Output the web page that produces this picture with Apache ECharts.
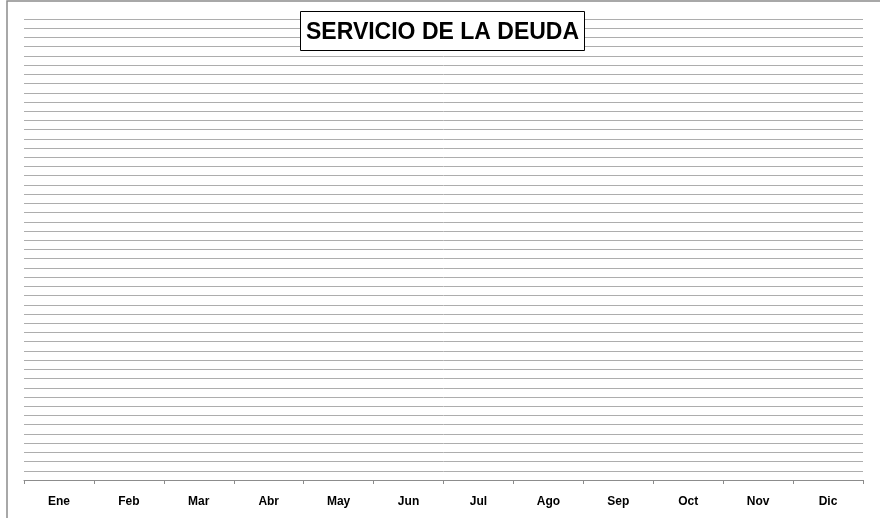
<!DOCTYPE html>
<html>
<head>
<meta charset="utf-8">
<script src="https://cdn.jsdelivr.net/npm/echarts@6/dist/echarts.min.js"></script>
<style>html,body{margin:0;padding:0;background:#fff}#c{width:880px;height:518px}</style>
</head>
<body>
<div id="c"></div>
<script>
const months = ['Ene','Feb','Mar','Abr','May','Jun','Jul','Ago','Sep','Oct','Nov','Dic'];
const servicioDeuda = [null,null,null,null,null,null,null,null,null,null,null,null];
const yMin = 0;
const yMax = 50;
const yStep = 1;

const chart = echarts.init(document.getElementById('c'), null, {renderer:'canvas'});
chart.setOption({
  animation:false,
  backgroundColor:'#ffffff',
  title:{
    text:'SERVICIO DE LA DEUDA',
    left:300, top:11,
    padding:[8,6,5,6],
    borderColor:'#000', borderWidth:1,
    backgroundColor:'#fff',
    textStyle:{fontFamily:'Liberation Sans, Arial, sans-serif', fontWeight:'bold', fontSize:23, color:'#000', lineHeight:27}
  },
  graphic:[{type:'rect', shape:{x:7,y:1,width:900,height:560}, style:{fill:'none', stroke:'#8c8c8c', lineWidth:1.5}, silent:true, z:-1}],
  grid:{left:24, right:17, top:19, bottom:38, containLabel:false},
  xAxis:{
    type:'category', data:months, boundaryGap:true,
    axisLine:{show:true, lineStyle:{color:'#8c8c8c', width:1}},
    axisTick:{show:true, length:4, alignWithLabel:false, lineStyle:{color:'#8c8c8c'}},
    axisLabel:{margin:16, fontFamily:'Liberation Sans, Arial, sans-serif', fontWeight:'bold', fontSize:12, color:'#000'},
    splitLine:{show:false}
  },
  yAxis:{
    type:'value', min:yMin, max:yMax, interval:yStep,
    axisLine:{show:false}, axisTick:{show:false}, axisLabel:{show:false},
    splitLine:{show:true, lineStyle:{color:'#adadad', width:1}}
  },
  series:[{type:'bar', name:'Servicio de la deuda', data:servicioDeuda, itemStyle:{color:'#4f81bd'}}]
});
</script>
</body>
</html>
